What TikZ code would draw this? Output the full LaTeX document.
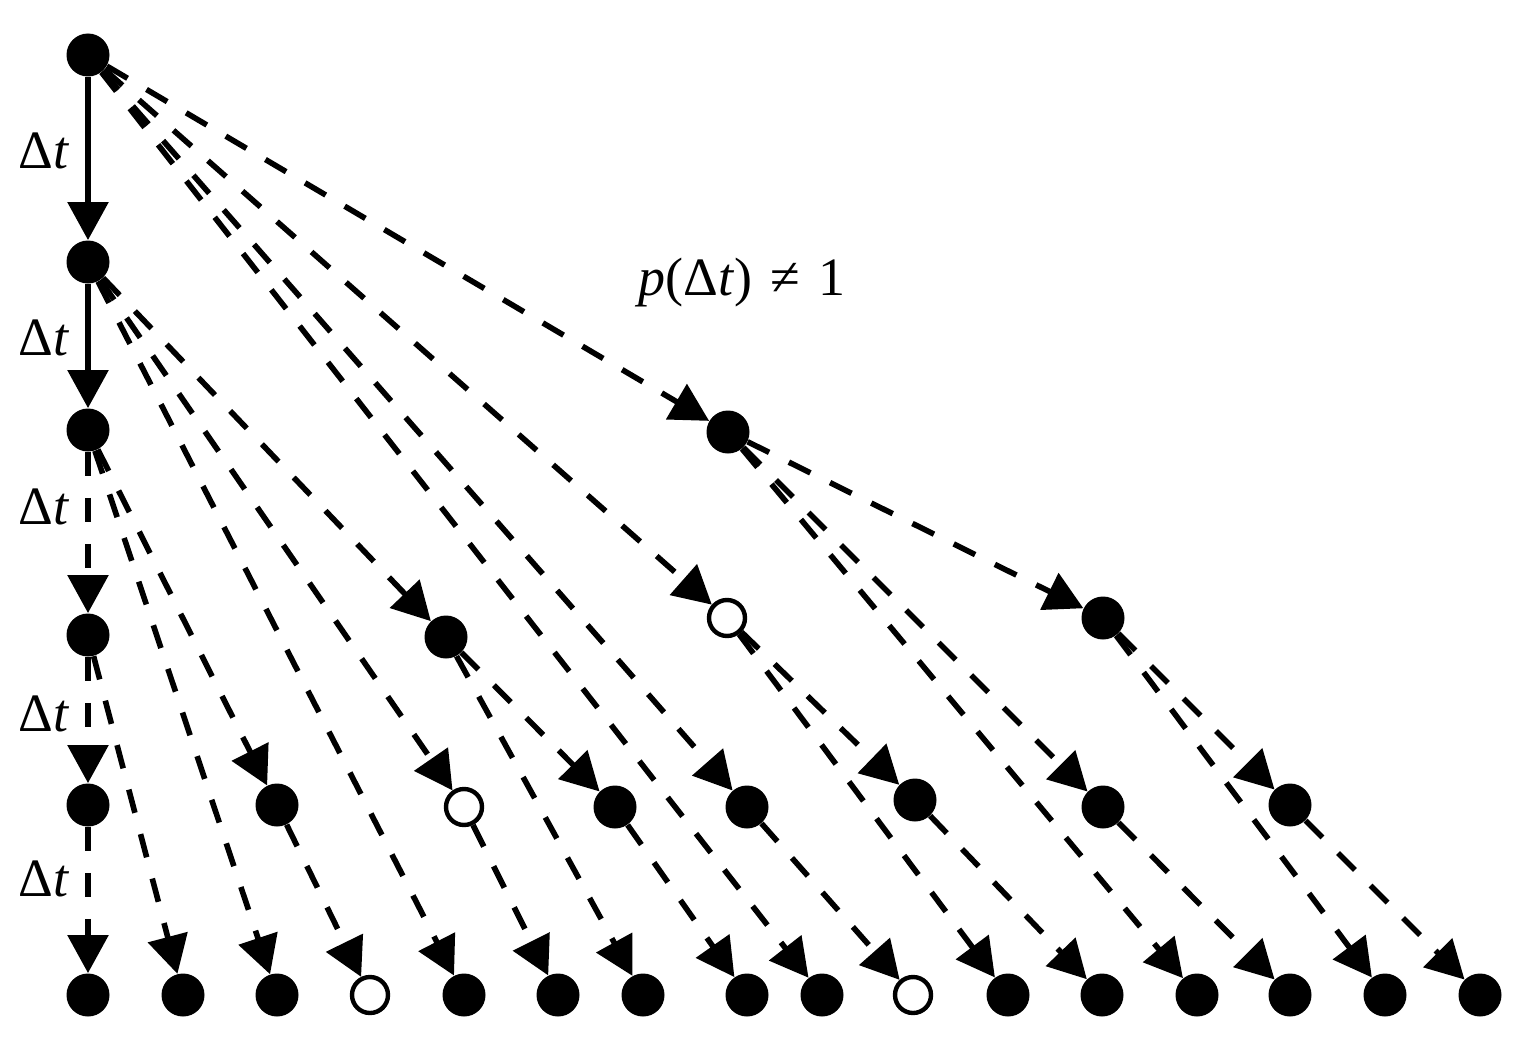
\documentclass[tikz,border=0pt]{standalone}
\usepackage{fontspec}
\setmainfont{Liberation Serif}
\usetikzlibrary{arrows.meta}
\begin{document}
\begin{tikzpicture}[x=0.5pt,y=-0.5pt,
  dot/.style={circle,fill=black,inner sep=0pt,minimum size=21.5pt},
  odot/.style={circle,draw=black,fill=white,line width=2.2pt,inner sep=0pt,minimum size=18pt},
  solidarr/.style={line width=2.8pt,-{Triangle[length=19pt,width=20pt]}},
  dasharr/.style={line width=2.8pt,dash pattern=on 12pt off 11pt,-{Triangle[length=19pt,width=20pt]}},
  lbl/.style={font=\fontsize{27}{31}\selectfont,inner sep=0pt}]
\useasboundingbox (0,0) rectangle (1514,1038);
% level 0-3
\node[dot] (R) at (88,55) {};
\node[dot] (A) at (88,262) {};
\node[dot] (B1) at (88,430) {};
\node[dot] (B2) at (728,432) {};
\node[dot] (C1) at (88,635) {};
\node[dot] (C2) at (446,637) {};
\node[odot] (C3) at (727,618) {};
\node[dot] (C4) at (1103,618) {};
% level 4
\node[dot] (D1) at (88,805) {};
\node[dot] (D2) at (277,805) {};
\node[odot] (D3) at (464,807) {};
\node[dot] (D4) at (615,807) {};
\node[dot] (D5) at (747,807) {};
\node[dot] (D6) at (915,800) {};
\node[dot] (D7) at (1103,807) {};
\node[dot] (D8) at (1290,805) {};
% level 5
\node[dot] (E1) at (88,995) {};
\node[dot] (E2) at (183,995) {};
\node[dot] (E3) at (277,995) {};
\node[odot] (E4) at (370,995) {};
\node[dot] (E5) at (464,995) {};
\node[dot] (E6) at (558,995) {};
\node[dot] (E7) at (643,995) {};
\node[dot] (E8) at (747,995) {};
\node[dot] (E9) at (822,995) {};
\node[odot] (E10) at (913,995) {};
\node[dot] (E11) at (1008,995) {};
\node[dot] (E12) at (1102,995) {};
\node[dot] (E13) at (1197,995) {};
\node[dot] (E14) at (1290,995) {};
\node[dot] (E15) at (1385,995) {};
\node[dot] (E16) at (1480,995) {};
% edges
\draw[solidarr] (R) -- (A);
\draw[solidarr] (A) -- (B1);
\draw[dasharr] (R) -- (B2);
\draw[dasharr] (R) -- (C3);
\draw[dasharr] (R) -- (D5);
\draw[dasharr] (R) -- (E9);
\draw[dasharr] (A) -- (C2);
\draw[dasharr] (A) -- (D3);
\draw[dasharr] (A) -- (E5);
\draw[dasharr] (B1) -- (C1);
\draw[dasharr] (B1) -- (D2);
\draw[dasharr] (B1) -- (E3);
\draw[dasharr] (B2) -- (C4);
\draw[dasharr] (B2) -- (D7);
\draw[dasharr] (B2) -- (E13);
\draw[dasharr] (C1) -- (D1);
\draw[dasharr] (C1) -- (E2);
\draw[dasharr] (C2) -- (D4);
\draw[dasharr] (C2) -- (E7);
\draw[dasharr] (C3) -- (D6);
\draw[dasharr] (C3) -- (E11);
\draw[dasharr] (C4) -- (D8);
\draw[dasharr] (C4) -- (E15);
\draw[dasharr] (D1) -- (E1);
\draw[dasharr] (D2) -- (E4);
\draw[dasharr] (D3) -- (E6);
\draw[dasharr] (D4) -- (E8);
\draw[dasharr] (D5) -- (E10);
\draw[dasharr] (D6) -- (E12);
\draw[dasharr] (D7) -- (E14);
\draw[dasharr] (D8) -- (E16);
% labels
\node[lbl] (t1) at (44,151) {Δ\textit{t}};
\node[lbl] (t2) at (44,338) {Δ\textit{t}};
\node[lbl] (t3) at (44,507) {Δ\textit{t}};
\node[lbl] (t4) at (44,714) {Δ\textit{t}};
\node[lbl] (t5) at (44,879) {Δ\textit{t}};
\node[lbl] (p) at (742,283) {\textit{p}(Δ\textit{t})\,\,≠\,\,1};
\end{tikzpicture}
\end{document}
